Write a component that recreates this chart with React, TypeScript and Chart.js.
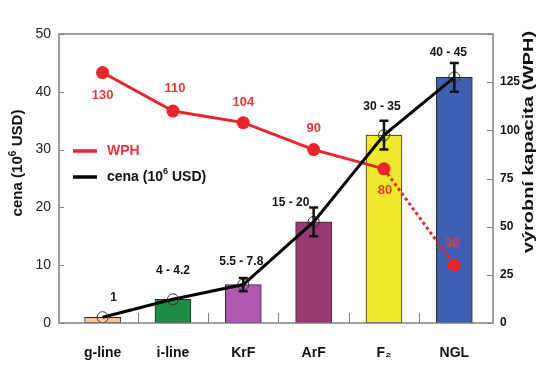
import React, { useEffect, useRef } from "react";
import { Chart, registerables } from "chart.js";

Chart.register(...registerables);

// ---- data ----
const categories = ["g-line", "i-line", "KrF", "ArF", "F₂", "NGL"];
const costMid = [1, 4.1, 6.65, 17.5, 32.5, 42.5];
const costLow: (number | null)[] = [null, null, 5.5, 15, 30, 40];
const costHigh: (number | null)[] = [null, null, 7.8, 20, 35, 45];
const costLabels = ["1", "4 - 4.2", "5.5 - 7.8", "15 - 20", "30 - 35", "40 - 45"];
const costLabelAnchor = [1, 4.2, 7.8, 20, 35, 45];
const wph = [130, 110, 104, 90, 80, 30];
const wphLabels = ["130", "110", "104", "90", "80", "30"];
const leftMax = 50;
const leftStep = 10;
const rightMax = 150;
const rightStep = 25;

// ---- style ----
const FONT = "'Liberation Sans', Arial, Helvetica, sans-serif";
const barColors = ["#F7C596", "#1F8B45", "#B057B0", "#983A74", "#F0E82C", "#3F60B2"];
const RED = "#E6262B";
const RED_TEXT = "#E53A33";
const FRAME = "#808080";
// label offsets (px) relative to anchor value
const costLabelDx = [11, 0, -2, -23, -2, -6];
const costLabelGap = [20, 28, 16, 5, 14, 10];
const wphLabelDx = [0, 2, 0, 0, 1, -2];
const wphLabelDy = [23, -23, -20, -21, 22, -22];

type Part = { text: string; size: number; dy: number };

function drawParts(ctx: CanvasRenderingContext2D, parts: Part[], x0: number, color: string) {
  let x = x0;
  for (const p of parts) {
    ctx.font = `bold ${p.size}px ${FONT}`;
    ctx.fillStyle = color;
    ctx.fillText(p.text, x, p.dy);
    x += ctx.measureText(p.text).width;
  }
}
function partsWidth(ctx: CanvasRenderingContext2D, parts: Part[]) {
  let w = 0;
  for (const p of parts) {
    ctx.font = `bold ${p.size}px ${FONT}`;
    w += ctx.measureText(p.text).width;
  }
  return w;
}

function verticalTitle(
  ctx: CanvasRenderingContext2D,
  parts: Part[],
  cx: number,
  cy: number,
  len: number,
  color: string
) {
  ctx.save();
  const w = partsWidth(ctx, parts);
  ctx.translate(cx, cy);
  ctx.rotate(-Math.PI / 2);
  ctx.scale(len / w, 1);
  ctx.textBaseline = "middle";
  ctx.textAlign = "left";
  drawParts(ctx, parts, -w / 2, color);
  ctx.restore();
}

const decorPlugin = {
  id: "decor",
  afterDatasetsDraw(chart: any) {
    const { ctx, scales } = chart;
    const x = scales.x;
    const y = scales.y;
    ctx.save();
    ctx.strokeStyle = "#111";
    ctx.lineWidth = 2.5;
    costLow.forEach((lo, i) => {
      const hi = costHigh[i];
      if (lo == null || hi == null) return;
      const px = x.getPixelForValue(i);
      const yl = y.getPixelForValue(lo);
      const yh = y.getPixelForValue(hi);
      ctx.beginPath();
      ctx.moveTo(px, yl);
      ctx.lineTo(px, yh);
      ctx.moveTo(px - 4.5, yl);
      ctx.lineTo(px + 4.5, yl);
      ctx.moveTo(px - 4.5, yh);
      ctx.lineTo(px + 4.5, yh);
      ctx.stroke();
    });
    ctx.restore();
  },
  afterDraw(chart: any) {
    const { ctx, chartArea: a, scales } = chart;
    const x = scales.x;
    const y = scales.y;
    const y1 = scales.y1;
    ctx.save();
    // frame
    ctx.strokeStyle = FRAME;
    ctx.lineWidth = 1.5;
    ctx.strokeRect(a.left, a.top, a.right - a.left, a.bottom - a.top);
    // tick marks (inward)
    ctx.lineWidth = 1;
    ctx.beginPath();
    for (let v = 0; v <= leftMax; v += leftStep) {
      const py = Math.round(y.getPixelForValue(v)) + 0.5;
      ctx.moveTo(a.left, py);
      ctx.lineTo(a.left + 5, py);
    }
    for (let v = 0; v <= rightMax; v += rightStep) {
      const py = Math.round(y1.getPixelForValue(v)) + 0.5;
      ctx.moveTo(a.right, py);
      ctx.lineTo(a.right - 6, py);
    }
    for (let i = 0; i < categories.length - 1; i++) {
      const px = Math.round(x.getPixelForValue(i + 0.5)) + 0.5;
      ctx.moveTo(px, a.bottom);
      ctx.lineTo(px, a.bottom - 10);
    }
    ctx.stroke();

    // axis titles
    verticalTitle(
      ctx,
      [
        { text: "cena (10", size: 15, dy: 0 },
        { text: "6", size: 10, dy: -5 },
        { text: " USD)", size: 15, dy: 0 },
      ],
      18,
      163,
      107,
      "#111"
    );
    verticalTitle(
      ctx,
      [{ text: "výrobní kapacita (WPH)", size: 15, dy: 0 }],
      529,
      142,
      222,
      "#111"
    );

    // legend
    ctx.lineWidth = 3.5;
    ctx.strokeStyle = RED;
    ctx.beginPath();
    ctx.moveTo(73, 151);
    ctx.lineTo(97, 151);
    ctx.stroke();
    ctx.strokeStyle = "#000";
    ctx.beginPath();
    ctx.moveTo(73, 177);
    ctx.lineTo(97, 177);
    ctx.stroke();
    ctx.textBaseline = "middle";
    ctx.textAlign = "left";
    ctx.save();
    ctx.translate(0, 151);
    drawParts(ctx, [{ text: "WPH", size: 14, dy: 0 }], 107, RED_TEXT);
    ctx.restore();
    ctx.save();
    ctx.translate(0, 177);
    drawParts(
      ctx,
      [
        { text: "cena (10", size: 14, dy: 0 },
        { text: "6", size: 9, dy: -5 },
        { text: " USD)", size: 14, dy: 0 },
      ],
      107,
      "#111"
    );
    ctx.restore();

    // cost labels
    ctx.textAlign = "center";
    ctx.textBaseline = "middle";
    ctx.font = `bold 12px ${FONT}`;
    ctx.fillStyle = "#111";
    costLabels.forEach((t, i) => {
      const px = x.getPixelForValue(i) + costLabelDx[i];
      const py = y.getPixelForValue(costLabelAnchor[i]) - costLabelGap[i];
      ctx.fillText(t, px, py);
    });
    // wph labels
    ctx.font = `bold 13px ${FONT}`;
    ctx.fillStyle = RED_TEXT;
    wphLabels.forEach((t, i) => {
      const px = x.getPixelForValue(i) + wphLabelDx[i];
      const py = y1.getPixelForValue(wph[i]) + wphLabelDy[i];
      ctx.fillText(t, px, py);
    });
    ctx.restore();
  },
};

export default function App() {
  const ref = useRef<HTMLCanvasElement | null>(null);
  useEffect(() => {
    if (!ref.current) return;
    const chart = new Chart(ref.current, {
      type: "bar",
      data: {
        datasets: [
          {
            type: "line",
            label: "cena (10⁶ USD)",
            data: costMid.map((v, i) => ({ x: i, y: v })),
            yAxisID: "y",
            borderColor: "#000",
            borderWidth: 3,
            pointRadius: 5.5,
            pointBackgroundColor: "rgba(255,255,255,0)",
            pointBorderColor: "#333",
            pointBorderWidth: 1,
            tension: 0,
            order: 1,
          } as any,
          {
            type: "line",
            label: "WPH",
            data: wph.map((v, i) => ({ x: i, y: v })),
            yAxisID: "y1",
            borderColor: RED,
            borderWidth: 3,
            pointRadius: 6.5,
            pointBackgroundColor: RED,
            pointBorderColor: RED,
            pointBorderWidth: 0,
            tension: 0,
            segment: {
              borderDash: (c: any) => (c.p1DataIndex === 5 ? [3, 3] : undefined),
            },
            order: 2,
          } as any,
          {
            type: "bar",
            label: "cena",
            data: costMid.map((v, i) => ({ x: i, y: v })),
            yAxisID: "y",
            backgroundColor: barColors,
            borderColor: "#2a2a2a",
            borderWidth: 1,
            borderSkipped: false,
            barThickness: 36,
            order: 3,
          } as any,
        ],
      },
      options: {
        responsive: false,
        animation: false,
        devicePixelRatio: 1,
        layout: { padding: { top: 34, left: 0, right: 0, bottom: 0 } },
        plugins: { legend: { display: false }, tooltip: { enabled: false } },
        scales: {
          x: {
            type: "linear",
            offset: false,
            min: -0.62,
            max: 5.55,
            grid: { display: false, drawTicks: false, offset: false },
            border: { display: false },
            afterBuildTicks: (s: any) => {
              s.ticks = categories.map((_, i) => ({ value: i }));
            },
            afterFit: (s: any) => {
              s.height = 59;
            },
            ticks: {
              autoSkip: false,
              maxRotation: 0,
              padding: 22,
              color: "#111",
              font: { family: FONT, size: 14, weight: "bold" },
              callback: (v: any) => categories[v as number] ?? "",
            },
          },
          y: {
            type: "linear",
            position: "left",
            min: 0,
            max: leftMax,
            grid: { display: false, drawTicks: false },
            border: { display: false },
            afterFit: (s: any) => {
              s.width = 59;
            },
            ticks: {
              stepSize: leftStep,
              padding: 8,
              color: "#222",
              font: { family: FONT, size: 14 },
            },
          },
          y1: {
            type: "linear",
            position: "right",
            min: 0,
            max: rightMax,
            grid: { display: false, drawTicks: false },
            border: { display: false },
            afterFit: (s: any) => {
              s.width = 55;
            },
            ticks: {
              stepSize: rightStep,
              padding: 7,
              color: "#111",
              font: { family: FONT, size: 12, weight: "bold" },
              callback: (v: any) => (v === rightMax ? "" : String(v)),
            },
          },
        },
      } as any,
      plugins: [decorPlugin],
    });
    return () => chart.destroy();
  }, []);
  return (
    <div style={{ position: "fixed", left: 0, top: 0, width: 548, height: 382, background: "#fff" }}>
      <canvas ref={ref} width={548} height={382} style={{ display: "block" }} />
    </div>
  );
}
